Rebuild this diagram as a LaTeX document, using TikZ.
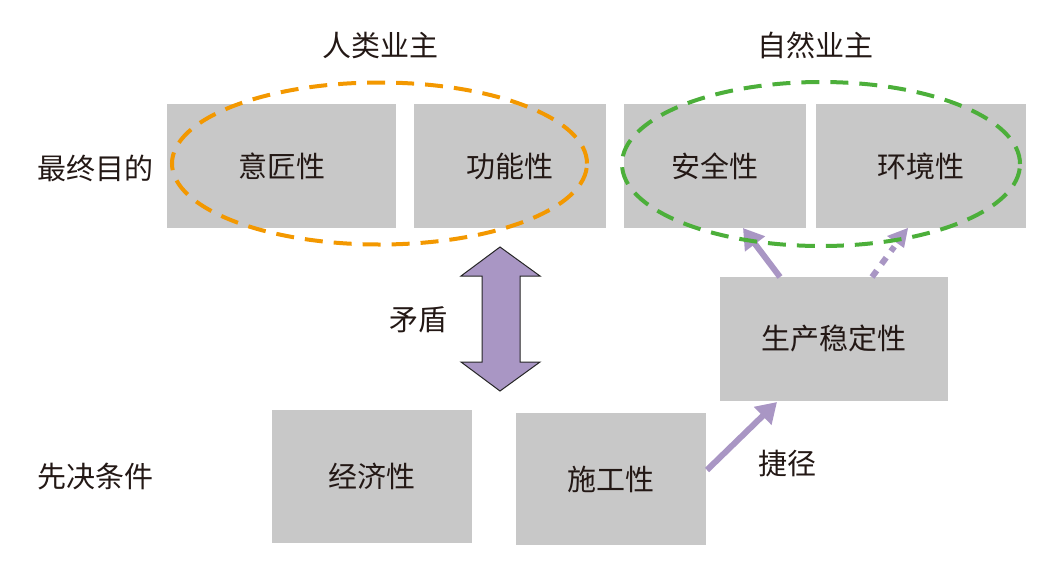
\documentclass[tikz,border=0pt]{standalone}
\usepackage{fontspec}
\setmainfont{Noto Sans CJK SC}
\usetikzlibrary{arrows.meta,calc}
\definecolor{boxgray}{HTML}{C8C8C8}
\definecolor{txt}{HTML}{231815}
\definecolor{orng}{HTML}{F39800}
\definecolor{grn}{HTML}{4CAF3A}
\definecolor{purp}{HTML}{A996C4}
\tikzset{
  gbox/.style={fill=boxgray,draw=none,inner sep=0pt,text=txt,font=\fontsize{29}{32}\selectfont},
  lbl/.style={text=txt,inner sep=0pt,font=\fontsize{29}{32}\selectfont},
  ring/.style={line width=4pt,dash pattern=on 18pt off 11pt},
  parrow/.style={draw=purp,line width=6pt,-{Triangle[length=20pt,width=24pt]}},
}
\begin{document}
\begin{tikzpicture}[x=1pt,y=-1pt]
\useasboundingbox (0,0) rectangle (1056,563);
% boxes
\node[gbox,minimum width=229pt,minimum height=124pt] (yj) at (281.5,166) {意匠性};
\node[gbox,minimum width=192pt,minimum height=124pt] (gn) at (510,166) {功能性};
\node[gbox,minimum width=182pt,minimum height=124pt] (aq) at (715,166) {安全性};
\node[gbox,minimum width=210pt,minimum height=124pt] (hj) at (921,166) {环境性};
\node[gbox,minimum width=228pt,minimum height=124pt] (sc) at (834,338.5) {生产稳定性};
\node[gbox,minimum width=200pt,minimum height=133pt] (jj) at (372,476.5) {经济性};
\node[gbox,minimum width=190pt,minimum height=132pt] (sg) at (611,479) {施工性};
% labels
\node[lbl] (rl) at (380,45) {人类业主};
\node[lbl] (zr) at (815,45) {自然业主};
\node[lbl] (zz) at (95,168) {最终目的};
\node[lbl] (xj) at (95,477) {先决条件};
\node[lbl] (md) at (418,320) {矛盾};
\node[lbl] (jl) at (787,464) {捷径};
% arrows
\coordinate (a1) at (780,277);
\coordinate (a1e) at (743,228);
\coordinate (a2) at (872,277);
\coordinate (a2e) at (908,228);
\draw[parrow] (a1) -- (a1e);
\draw[draw=purp,line width=6pt,dash pattern=on 8pt off 8pt] (a2) -- ($(a2)!0.62!(a2e)$);
\fill[purp] (a2e) -- ++(-21,8) -- ++(17,12) -- cycle;
\coordinate (b1) at (707,470);
\coordinate (b1e) at (777,402);
\draw[parrow] (b1) -- (b1e);
% double arrow
\draw[fill=purp,draw=black!85,line width=1pt,line join=miter]
  (500,247) -- (540,276) -- (520,276) -- (520,362) -- (540,362) -- (500,391)
  -- (461,362) -- (482,362) -- (482,276) -- (461,276) -- cycle;
% ellipses
\draw[ring,draw=orng] (379.5,163.5) ellipse [x radius=207.5pt,y radius=81pt];
\draw[ring,draw=grn] (821,164) ellipse [x radius=199pt,y radius=82pt];
\end{tikzpicture}
\end{document}
